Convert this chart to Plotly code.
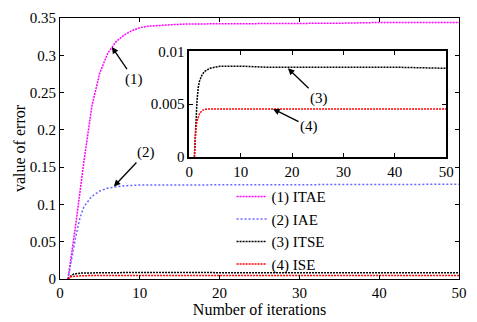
import plotly.graph_objects as go

# ---- data ----
itae_x = [1, 2, 3, 4, 5, 6, 7, 8, 9, 10, 11, 12, 14, 16, 18, 20, 25, 30, 35, 40, 45, 50]
itae_y = [0, 0.075, 0.158, 0.232, 0.277, 0.303, 0.318, 0.327, 0.333, 0.337, 0.339, 0.340,
          0.341, 0.342, 0.342, 0.342, 0.343, 0.343, 0.343, 0.344, 0.344, 0.344]

iae_x = [1, 1.5, 2, 2.5, 3, 4, 5, 6, 7, 8, 10, 12, 15, 20, 30, 40, 50]
iae_y = [0, 0.03, 0.058, 0.082, 0.097, 0.111, 0.118, 0.122, 0.124, 0.125, 0.126, 0.126,
         0.127, 0.127, 0.127, 0.127, 0.127]

itse_x = [1, 1.25, 1.5, 1.75, 2, 2.5, 3, 4, 5, 6, 8, 10, 15, 20, 30, 40, 50]
itse_y = [0, 0.0031, 0.0053, 0.0066, 0.0072, 0.0078, 0.0081, 0.0084, 0.0085, 0.0086, 0.0086,
          0.0086, 0.0085, 0.0085, 0.0085, 0.0085, 0.0084]

ise_x = [1, 1.25, 1.5, 2, 2.5, 3, 4, 5, 10, 20, 30, 40, 50]
ise_y = [0, 0.0025, 0.0034, 0.0041, 0.0044, 0.0045, 0.00455, 0.00455, 0.00455, 0.00455,
         0.00455, 0.00455, 0.00455]

names = ["(1) ITAE", "(2) IAE", "(3) ITSE", "(4) ISE"]
colors = ["#ff00ff", "#6666ff", "#000000", "#ff0000"]
dashes = ["2px,1px", "2px,2px", "2px,1px", "2px,1px"]

main_ticks_x = [0, 10, 20, 30, 40, 50]
main_ticks_y = [0, 0.05, 0.1, 0.15, 0.2, 0.25, 0.3, 0.35]
main_tick_text_y = ["0", "0.05", "0.1", "0.15", "0.2", "0.25", "0.3", "0.35"]
inset_ticks_y = [0, 0.005, 0.01]
inset_tick_text_y = ["0", "0.005", "0.01"]

FONT = "Liberation Serif, Times New Roman, serif"

fig = go.Figure()
series = [(itae_x, itae_y), (iae_x, iae_y), (itse_x, itse_y), (ise_x, ise_y)]
for (xs, ys), n, c, d in zip(series, names, colors, dashes):
    fig.add_trace(go.Scatter(x=xs, y=ys, mode="lines", name=n,
                             line=dict(color=c, width=1.5, dash=d),
                             xaxis="x", yaxis="y"))
for (xs, ys), n, c, d in zip(series[2:], names[2:], colors[2:], dashes[2:]):
    fig.add_trace(go.Scatter(x=xs, y=ys, mode="lines", name=n, showlegend=False,
                             line=dict(color=c, width=1.5, dash=d),
                             xaxis="x2", yaxis="y2"))

axis_common = dict(showgrid=False, zeroline=False, showline=True, linecolor="black",
                   mirror="ticks", ticks="inside", tickcolor="black",
                   tickfont=dict(family=FONT, size=15, color="black"))

fig.update_layout(
    width=477, height=322,
    margin=dict(l=60, r=10, t=16, b=41),
    plot_bgcolor="white", paper_bgcolor="white",
    font=dict(family=FONT, color="black"),
    xaxis=dict(range=[0, 50], tickvals=main_ticks_x, linewidth=1, ticklen=4,
               title=dict(text="Number of iterations", font=dict(family=FONT, size=16), standoff=0),
               **axis_common),
    yaxis=dict(range=[0, 0.35], tickvals=main_ticks_y, ticktext=main_tick_text_y,
               linewidth=1, ticklen=4,
               title=dict(text="value of error", font=dict(family=FONT, size=16), standoff=0),
               **axis_common),
    xaxis2=dict(domain=[0.324, 0.968], anchor="y2", range=[0, 50], tickvals=main_ticks_x,
                linewidth=1.5, ticklen=4, **axis_common),
    yaxis2=dict(domain=[0.468, 0.872], anchor="x2", range=[0, 0.01], tickvals=inset_ticks_y,
                ticktext=inset_tick_text_y, linewidth=1.5, ticklen=4, **axis_common),
    legend=dict(x=0.43, y=0.378, xanchor="left", yanchor="top", bgcolor="rgba(0,0,0,0)",
                font=dict(family=FONT, size=15, color="black"), itemwidth=30,
                tracegroupgap=0),
    showlegend=True,
)

# annotations with arrows (tip at data point, label offset in pixels)
arrows = [
    dict(text="(1)", x=6.5, y=0.311, xref="x", yref="y", ax=22, ay=32),
    dict(text="(2)", x=6.75, y=0.124, xref="x", yref="y", ax=32, ay=-34),
    dict(text="(3)", x=19.2, y=0.0084, xref="x2", yref="y2", ax=31, ay=30),
    dict(text="(4)", x=16.3, y=0.00455, xref="x2", yref="y2", ax=36, ay=18),
]
for a in arrows:
    fig.add_annotation(x=a["x"], y=a["y"], xref=a["xref"], yref=a["yref"],
                       ax=a["ax"], ay=a["ay"], axref="pixel", ayref="pixel",
                       text=a["text"], showarrow=True, arrowhead=2, arrowsize=1,
                       arrowwidth=1.3, arrowcolor="black", standoff=0,
                       font=dict(family=FONT, size=15, color="black"))

fig.write_html("out.html")
